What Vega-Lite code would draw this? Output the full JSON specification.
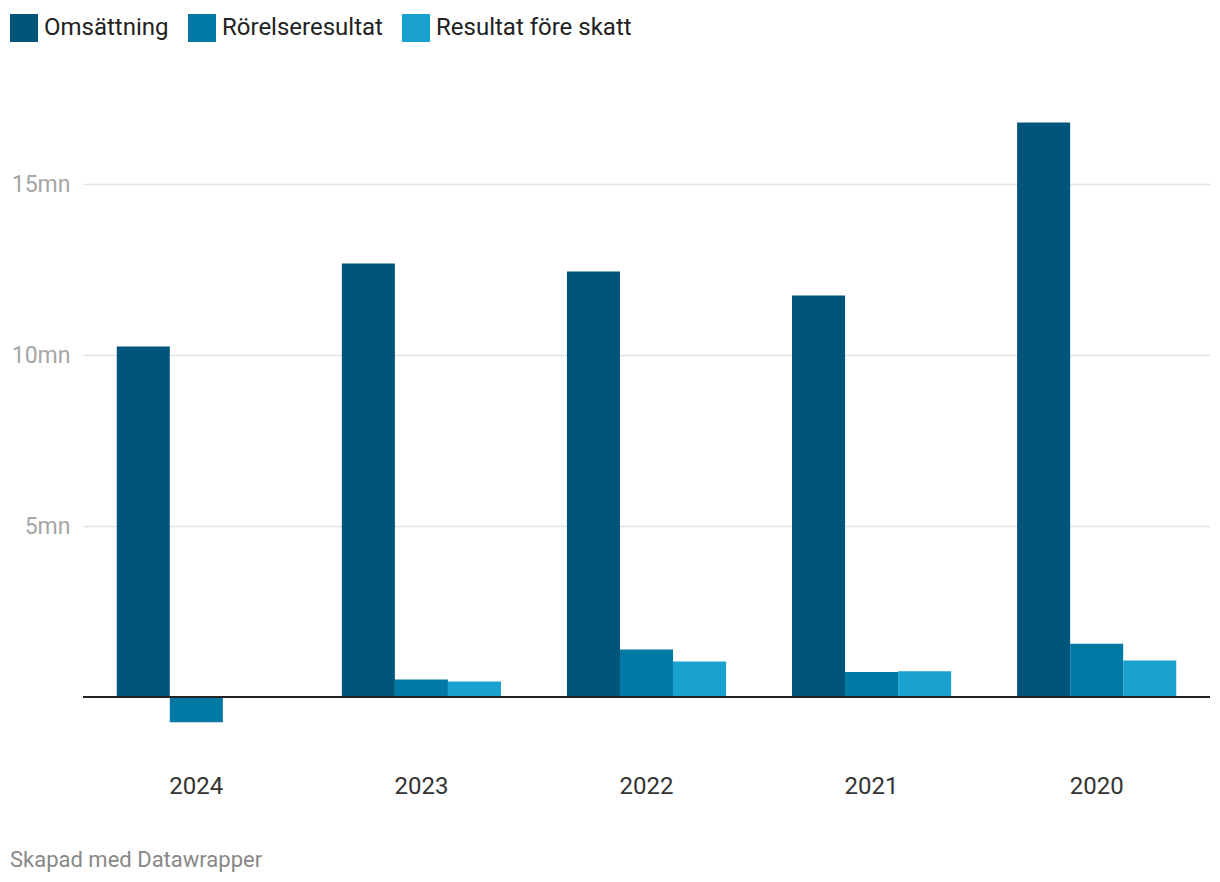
{
  "$schema": "https://vega.github.io/schema/vega-lite/v6.json",
  "width": 1127,
  "height": 636,
  "autosize": {"type": "none"},
  "padding": {"left": 83, "top": 102, "right": 10, "bottom": 144},
  "background": "white",
  "config": {
    "font": "Roboto",
    "view": {"stroke": null}
  },
  "title": {
    "text": "Skapad med Datawrapper",
    "orient": "bottom",
    "anchor": "start",
    "frame": "group",
    "dx": -73,
    "offset": 52,
    "fontSize": 22,
    "fontWeight": "normal",
    "color": "#888888",
    "font": "Roboto"
  },
  "data": {
    "values": [
      {"year": "2024", "series": "Omsättning", "value": 10.25},
      {"year": "2024", "series": "Rörelseresultat", "value": -0.74},
      {"year": "2024", "series": "Resultat före skatt", "value": null},
      {"year": "2023", "series": "Omsättning", "value": 12.68},
      {"year": "2023", "series": "Rörelseresultat", "value": 0.51},
      {"year": "2023", "series": "Resultat före skatt", "value": 0.45},
      {"year": "2022", "series": "Omsättning", "value": 12.44},
      {"year": "2022", "series": "Rörelseresultat", "value": 1.39},
      {"year": "2022", "series": "Resultat före skatt", "value": 1.04},
      {"year": "2021", "series": "Omsättning", "value": 11.74},
      {"year": "2021", "series": "Rörelseresultat", "value": 0.73},
      {"year": "2021", "series": "Resultat före skatt", "value": 0.75},
      {"year": "2020", "series": "Omsättning", "value": 16.8},
      {"year": "2020", "series": "Rörelseresultat", "value": 1.56},
      {"year": "2020", "series": "Resultat före skatt", "value": 1.07}
    ]
  },
  "layer": [
    {
      "mark": {"type": "bar"},
      "encoding": {
        "x": {
          "field": "year",
          "type": "nominal",
          "sort": ["2024", "2023", "2022", "2021", "2020"],
          "scale": {"paddingInner": 0.293, "paddingOuter": 0.15},
          "axis": {
            "title": null,
            "labelAngle": 0,
            "domain": false,
            "ticks": false,
            "labelPadding": 36,
            "labelFontSize": 24,
            "labelColor": "#333333",
            "labelFont": "Roboto"
          }
        },
        "xOffset": {
          "field": "series",
          "type": "nominal",
          "sort": ["Omsättning", "Rörelseresultat", "Resultat före skatt"],
          "scale": {"paddingInner": 0, "paddingOuter": 0}
        },
        "y": {
          "field": "value",
          "type": "quantitative",
          "scale": {"domain": [-1.2, 17.4], "nice": false, "zero": false},
          "axis": {
            "title": null,
            "values": [5, 10, 15],
            "labelExpr": "datum.value + 'mn'",
            "domain": false,
            "ticks": false,
            "labelPadding": 13,
            "labelFontSize": 23,
            "labelColor": "#a6a6a6",
            "labelFont": "Roboto",
            "gridColor": "#e3e3e3",
            "gridWidth": 1.5
          }
        },
        "color": {
          "field": "series",
          "type": "nominal",
          "sort": ["Omsättning", "Rörelseresultat", "Resultat före skatt"],
          "scale": {
            "domain": ["Omsättning", "Rörelseresultat", "Resultat före skatt"],
            "range": ["#01547a", "#0278a4", "#19a2cf"]
          },
          "legend": {
            "title": null,
            "orient": "none",
            "legendX": -73,
            "legendY": -88,
            "direction": "horizontal",
            "symbolType": "square",
            "symbolSize": 784,
            "symbolStrokeWidth": 0,
            "symbolOpacity": 1,
            "labelFontSize": 24,
            "labelLimit": 500,
            "labelColor": "#222222",
            "labelFont": "Roboto",
            "labelOffset": 6,
            "columnPadding": 19
          }
        }
      }
    },
    {
      "mark": {"type": "rule", "color": "#222222", "strokeWidth": 2},
      "encoding": {"y": {"datum": 0}}
    }
  ]
}
